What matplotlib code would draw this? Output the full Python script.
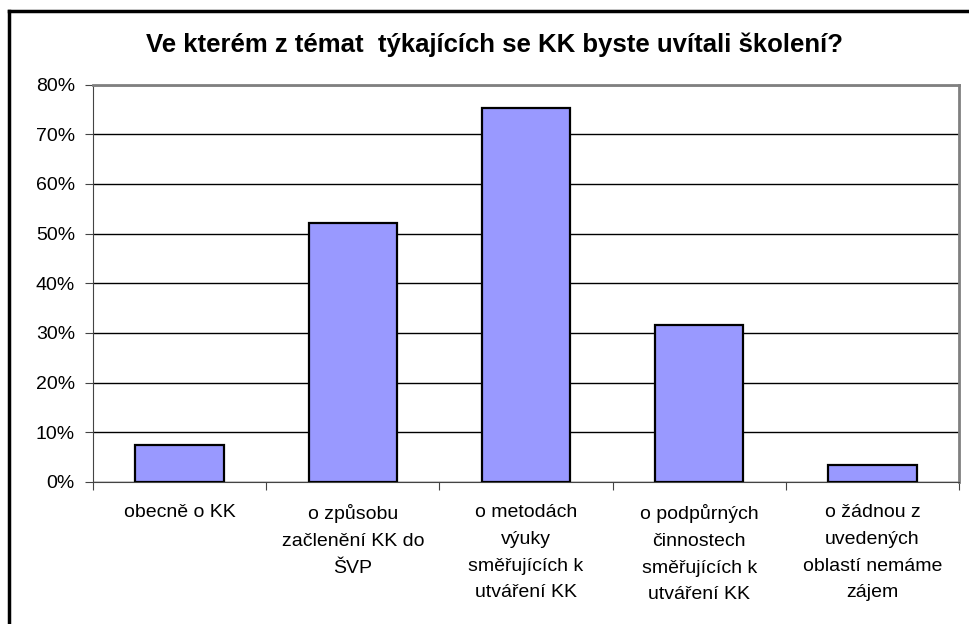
import matplotlib
matplotlib.use("Agg")
import matplotlib.pyplot as plt
from matplotlib.lines import Line2D
from matplotlib.ticker import FuncFormatter, MultipleLocator

plt.rcParams["font.family"] = ["Liberation Sans", "DejaVu Sans"]

title = "Ve kterém z témat  týkajících se KK byste uvítali školení?"
categories = [
    "obecně o KK",
    "o způsobu\nzačlenění KK do\nŠVP",
    "o metodách\nvýuky\nsměřujících k\nutváření KK",
    "o podpůrných\nčinnostech\nsměřujících k\nutváření KK",
    "o žádnou z\nuvedených\noblastí nemáme\nzájem",
]
values = [7.4, 52.2, 75.3, 31.6, 3.4]

W, H = 969, 624
fig = plt.figure(figsize=(W / 100, H / 100), dpi=100)
ax = fig.add_axes([93 / W, (H - 482) / H, (959 - 93) / W, (482 - 84.5) / H])

x = list(range(len(categories)))
ax.bar(x, values, width=0.51, color="#9999FF", edgecolor="black", linewidth=1.6, zorder=3)

ax.set_xlim(-0.5, len(categories) - 0.5)
ax.set_ylim(0, 80)
ax.yaxis.set_major_locator(MultipleLocator(10))
ax.yaxis.set_major_formatter(FuncFormatter(lambda v, p: f"{v:.0f}%"))
ax.grid(axis="y", color="black", linewidth=1, zorder=0)

# category boundaries as tick marks
ax.set_xticks([i - 0.5 for i in range(len(categories) + 1)], minor=False)
ax.set_xticklabels([])
ax.set_xticks(x, minor=True)
ax.set_xticklabels(categories, minor=True, fontsize=14, linespacing=1.75, va="top")
ax.tick_params(axis="x", which="minor", length=0, pad=16)
ax.tick_params(axis="x", which="major", length=6, direction="out", color="#444444")
ax.tick_params(axis="y", length=6, direction="out", labelsize=14, color="#444444", pad=7)

for side in ["top", "right"]:
    ax.spines[side].set_color("#808080")
    ax.spines[side].set_linewidth(2)
ax.spines["left"].set_color("#444444")
ax.spines["bottom"].set_color("#444444")

fig.text(495 / W, 1 - 45 / H, title, ha="center", va="center", fontsize=18.5, fontweight="bold")

# outer chart border (only left and top visible)
fig.add_artist(Line2D([9 / W, 9 / W], [0, 1 - 11 / H], transform=fig.transFigure, color="black", linewidth=2.5))
fig.add_artist(Line2D([9 / W, 1], [1 - 11 / H, 1 - 11 / H], transform=fig.transFigure, color="black", linewidth=2.5))

fig.savefig("out.png", dpi=100, facecolor="white")
